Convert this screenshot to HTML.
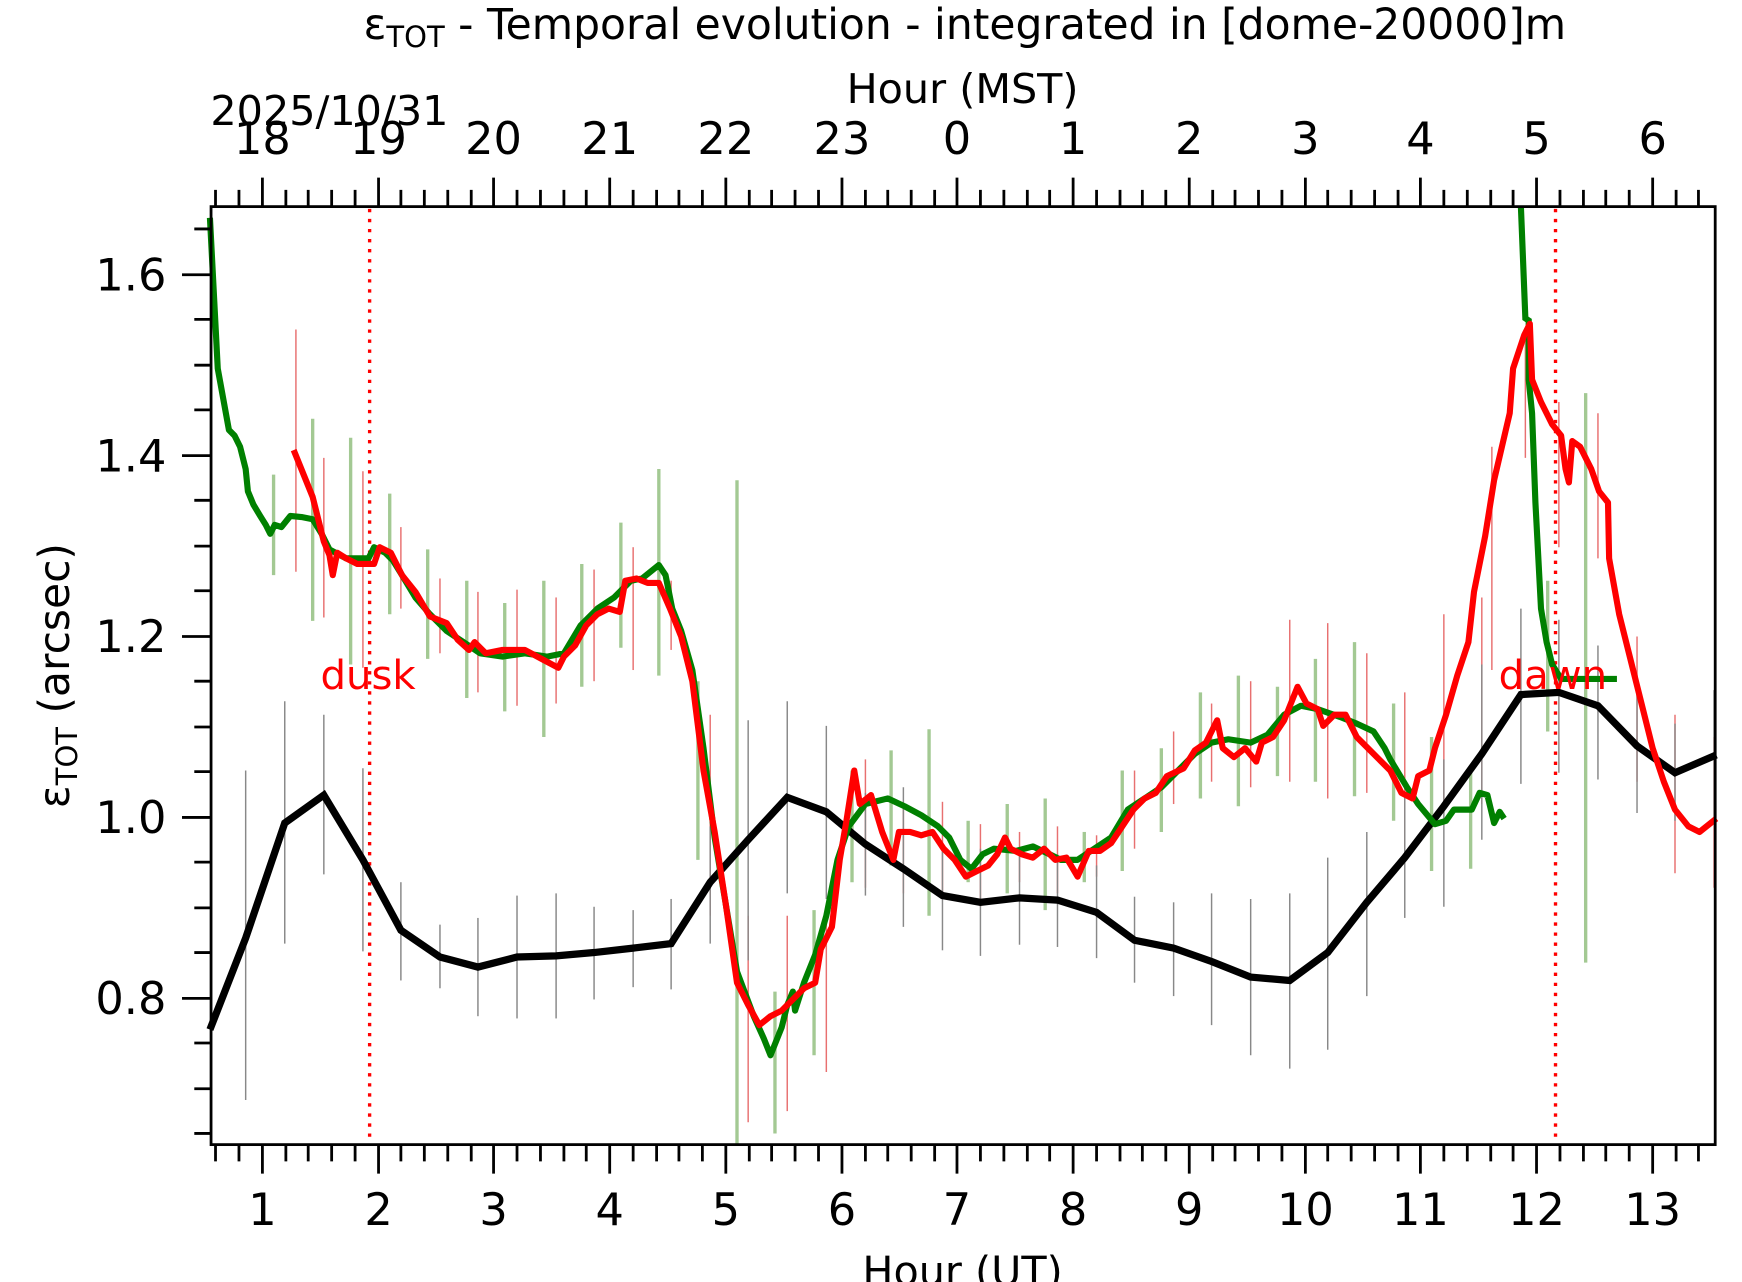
<!DOCTYPE html>
<html><head><meta charset="utf-8"><style>html,body{margin:0;padding:0;background:#fff}svg{display:block}</style></head><body>
<svg width="1742" height="1282" viewBox="0 0 1560 1148" xmlns="http://www.w3.org/2000/svg" font-family="'DejaVu Sans','Liberation Sans',sans-serif">
<rect width="1560" height="1148" fill="#fff"/>
<g stroke-width="1.3">
<g stroke="#e87070">
<line x1="265" y1="295" x2="265" y2="512"/><line x1="290" y1="410" x2="290" y2="553"/><line x1="325" y1="422" x2="325" y2="598"/><line x1="359" y1="472" x2="359" y2="545"/><line x1="394" y1="518" x2="394" y2="585"/><line x1="428" y1="530" x2="428" y2="620"/><line x1="463" y1="528" x2="463" y2="632"/><line x1="498" y1="535" x2="498" y2="630"/><line x1="532" y1="510" x2="532" y2="610"/><line x1="567" y1="490" x2="567" y2="600"/><line x1="601" y1="520" x2="601" y2="582"/><line x1="636" y1="640" x2="636" y2="820"/><line x1="670" y1="820" x2="670" y2="1005"/><line x1="705" y1="820" x2="705" y2="995"/><line x1="740" y1="820" x2="740" y2="960"/><line x1="775" y1="680" x2="775" y2="795"/><line x1="809" y1="720" x2="809" y2="800"/><line x1="844" y1="718" x2="844" y2="805"/><line x1="878" y1="738" x2="878" y2="812"/><line x1="913" y1="745" x2="913" y2="790"/><line x1="947" y1="740" x2="947" y2="800"/><line x1="982" y1="748" x2="982" y2="785"/><line x1="1016" y1="690" x2="1016" y2="760"/><line x1="1051" y1="655" x2="1051" y2="720"/><line x1="1085" y1="630" x2="1085" y2="700"/><line x1="1120" y1="610" x2="1120" y2="705"/><line x1="1155" y1="555" x2="1155" y2="700"/><line x1="1189" y1="558" x2="1189" y2="715"/><line x1="1224" y1="585" x2="1224" y2="710"/><line x1="1258" y1="620" x2="1258" y2="760"/><line x1="1293" y1="550" x2="1293" y2="720"/><line x1="1327" y1="535" x2="1327" y2="720"/><line x1="1336" y1="400" x2="1336" y2="600"/><line x1="1366" y1="300" x2="1366" y2="410"/><line x1="1396" y1="360" x2="1396" y2="490"/><line x1="1431" y1="370" x2="1431" y2="500"/><line x1="1466" y1="570" x2="1466" y2="700"/><line x1="1500" y1="640" x2="1500" y2="782"/><line x1="1535" y1="660" x2="1535" y2="795"/>
</g>
<g stroke="#a3c993" stroke-width="3">
<line x1="245" y1="425" x2="245" y2="515"/><line x1="280" y1="375" x2="280" y2="556"/><line x1="314" y1="392" x2="314" y2="595"/><line x1="349" y1="442" x2="349" y2="550"/><line x1="383" y1="492" x2="383" y2="590"/><line x1="418" y1="520" x2="418" y2="625"/><line x1="452" y1="540" x2="452" y2="637"/><line x1="487" y1="520" x2="487" y2="660"/><line x1="521" y1="505" x2="521" y2="615"/><line x1="556" y1="468" x2="556" y2="580"/><line x1="590" y1="420" x2="590" y2="605"/><line x1="625" y1="610" x2="625" y2="770"/><line x1="660" y1="430" x2="660" y2="1025"/><line x1="694" y1="888" x2="694" y2="1015"/><line x1="729" y1="815" x2="729" y2="945"/><line x1="763" y1="690" x2="763" y2="790"/><line x1="798" y1="672" x2="798" y2="775"/><line x1="832" y1="653" x2="832" y2="820"/><line x1="867" y1="735" x2="867" y2="790"/><line x1="902" y1="720" x2="902" y2="800"/><line x1="936" y1="715" x2="936" y2="815"/><line x1="971" y1="745" x2="971" y2="790"/><line x1="1005" y1="690" x2="1005" y2="780"/><line x1="1040" y1="670" x2="1040" y2="745"/><line x1="1075" y1="620" x2="1075" y2="715"/><line x1="1109" y1="605" x2="1109" y2="722"/><line x1="1144" y1="615" x2="1144" y2="695"/><line x1="1178" y1="590" x2="1178" y2="700"/><line x1="1213" y1="575" x2="1213" y2="713"/><line x1="1248" y1="630" x2="1248" y2="735"/><line x1="1282" y1="660" x2="1282" y2="780"/><line x1="1317" y1="688" x2="1317" y2="778"/><line x1="1386" y1="520" x2="1386" y2="655"/><line x1="1420" y1="352" x2="1420" y2="862"/>
</g>
<g stroke="#888">
<line x1="220" y1="690" x2="220" y2="985"/><line x1="255" y1="628" x2="255" y2="845"/><line x1="290" y1="640" x2="290" y2="783"/><line x1="325" y1="688" x2="325" y2="852"/><line x1="359" y1="790" x2="359" y2="878"/><line x1="394" y1="828" x2="394" y2="885"/><line x1="428" y1="822" x2="428" y2="910"/><line x1="463" y1="802" x2="463" y2="912"/><line x1="498" y1="800" x2="498" y2="912"/><line x1="532" y1="812" x2="532" y2="895"/><line x1="567" y1="815" x2="567" y2="884"/><line x1="601" y1="805" x2="601" y2="886"/><line x1="636" y1="740" x2="636" y2="845"/><line x1="670" y1="645" x2="670" y2="860"/><line x1="705" y1="628" x2="705" y2="800"/><line x1="740" y1="650" x2="740" y2="805"/><line x1="775" y1="710" x2="775" y2="802"/><line x1="809" y1="705" x2="809" y2="830"/><line x1="844" y1="755" x2="844" y2="851"/><line x1="878" y1="760" x2="878" y2="856"/><line x1="913" y1="762" x2="913" y2="846"/><line x1="947" y1="765" x2="947" y2="848"/><line x1="982" y1="775" x2="982" y2="858"/><line x1="1016" y1="803" x2="1016" y2="880"/><line x1="1051" y1="808" x2="1051" y2="892"/><line x1="1085" y1="800" x2="1085" y2="918"/><line x1="1120" y1="805" x2="1120" y2="945"/><line x1="1155" y1="800" x2="1155" y2="957"/><line x1="1189" y1="768" x2="1189" y2="940"/><line x1="1224" y1="745" x2="1224" y2="892"/><line x1="1258" y1="712" x2="1258" y2="822"/><line x1="1293" y1="680" x2="1293" y2="812"/><line x1="1327" y1="595" x2="1327" y2="752"/><line x1="1362" y1="545" x2="1362" y2="702"/><line x1="1396" y1="555" x2="1396" y2="692"/><line x1="1431" y1="578" x2="1431" y2="698"/><line x1="1466" y1="605" x2="1466" y2="728"/><line x1="1500" y1="648" x2="1500" y2="735"/><line x1="1535" y1="618" x2="1535" y2="735"/>
</g>
</g>
<g stroke="#f00" stroke-width="3" stroke-dasharray="3,6">
<line x1="331" y1="187" x2="331" y2="1025"/><line x1="1393" y1="187" x2="1393" y2="1025"/>
</g>
<polyline fill="none" stroke="#000" stroke-width="6.5" stroke-linejoin="miter" points="188,922 220,840 255,737 290,712 325,770 359,833 394,857 428,866 463,857 498,856 532,853 567,849 601,845 636,790 670,752 705,714 740,727 775,756 809,778 844,802 878,808 913,804 947,806 982,817 1016,842 1051,849 1085,861 1120,875 1155,878 1189,853 1224,808 1258,768 1293,722 1327,675 1362,622 1396,620 1431,632 1466,668 1500,692 1537,676"/>
<polyline fill="none" stroke="#008000" stroke-width="5.5" stroke-linejoin="round" points="188,195 195,330 205,385 210,390 215,400 220,420 222,440 227,452 233,462 238,470 242,478 246,470 252,472 260,462 270,463 280,465 288,478 295,492 310,500 330,500 335,490 345,495 352,502 360,515 372,535 385,550 400,565 415,575 430,585 450,588 470,585 490,588 505,585 520,560 535,545 550,535 565,520 575,518 585,510 590,506 596,515 602,545 610,565 620,600 630,670 640,750 650,810 660,870 675,910 684,930 690,945 700,920 705,900 710,888 712,905 720,880 730,855 740,820 750,770 760,740 775,720 795,715 810,722 825,730 840,740 850,750 860,770 870,778 880,765 890,760 910,762 925,758 940,765 950,770 965,770 980,760 995,750 1010,725 1025,715 1040,705 1055,690 1070,675 1085,665 1100,662 1120,665 1135,658 1150,640 1165,632 1180,635 1200,642 1215,648 1230,655 1240,670 1245,680 1260,705 1270,720 1285,738 1295,735 1302,725 1318,725 1325,710 1332,712 1338,737 1343,727 1347,733"/>
<polyline fill="none" stroke="#008000" stroke-width="5.5" points="1362,185 1366,285 1369,287 1369,340 1372,370 1375,450 1380,545 1385,575 1390,595 1398,608 1448,608"/>
<polyline fill="none" stroke="#f00" stroke-width="5.5" stroke-linejoin="round" points="263,403 280,445 290,485 295,497 298,515 302,495 310,500 320,505 335,505 340,490 350,495 360,515 372,530 385,552 400,558 410,573 420,582 425,575 435,585 450,582 470,582 485,590 500,598 505,588 515,578 525,560 535,550 545,545 555,548 560,520 570,518 580,522 590,522 600,545 610,570 620,610 630,690 640,745 650,810 660,880 670,900 680,918 690,910 700,905 710,895 720,885 730,880 735,850 745,830 752,770 758,735 765,690 770,720 780,712 790,745 800,770 805,745 815,745 825,748 835,745 845,760 855,770 865,785 875,780 885,775 893,765 900,750 905,760 915,765 925,768 935,760 945,770 955,768 965,785 975,762 985,762 995,755 1005,740 1015,725 1025,715 1035,710 1045,695 1060,688 1070,672 1080,665 1090,645 1095,670 1105,678 1115,670 1125,682 1130,665 1140,660 1150,645 1162,615 1170,630 1180,635 1185,650 1195,640 1205,640 1215,660 1225,670 1235,680 1245,690 1255,710 1265,715 1270,695 1280,690 1285,670 1295,640 1305,605 1315,575 1320,530 1330,480 1338,430 1345,400 1352,370 1355,330 1365,300 1370,290 1372,340 1380,360 1390,380 1398,390 1402,420 1405,432 1408,395 1415,400 1425,420 1432,440 1440,450 1441,500 1450,550 1460,590 1470,630 1480,670 1490,700 1500,725 1512,740 1522,745 1537,733"/>
<text x="287" y="617" font-size="36" fill="#f00">dusk</text>
<text x="1342" y="617" font-size="36" fill="#f00">dawn</text>
<rect x="189" y="185" width="1347" height="840" fill="none" stroke="#000" stroke-width="2.5"/>
<g stroke="#000" stroke-width="2.5">
<path d="M235,185v-26M339,185v-26M442,185v-26M546,185v-26M650,185v-26M754,185v-26M857,185v-26M961,185v-26M1065,185v-26M1169,185v-26M1272,185v-26M1376,185v-26M1480,185v-26M235,1025v26M339,1025v26M442,1025v26M546,1025v26M650,1025v26M754,1025v26M857,1025v26M961,1025v26M1065,1025v26M1169,1025v26M1272,1025v26M1376,1025v26M1480,1025v26"/>
<path d="M193,185v-15M214,185v-15M256,185v-15M276,185v-15M297,185v-15M318,185v-15M359,185v-15M380,185v-15M401,185v-15M422,185v-15M463,185v-15M484,185v-15M505,185v-15M525,185v-15M567,185v-15M588,185v-15M608,185v-15M629,185v-15M671,185v-15M691,185v-15M712,185v-15M733,185v-15M775,185v-15M795,185v-15M816,185v-15M837,185v-15M878,185v-15M899,185v-15M920,185v-15M940,185v-15M982,185v-15M1003,185v-15M1023,185v-15M1044,185v-15M1086,185v-15M1106,185v-15M1127,185v-15M1148,185v-15M1189,185v-15M1210,185v-15M1231,185v-15M1252,185v-15M1293,185v-15M1314,185v-15M1335,185v-15M1355,185v-15M1397,185v-15M1418,185v-15M1438,185v-15M1459,185v-15M1501,185v-15M1521,185v-15"/>
<path d="M193,1025v15M214,1025v15M256,1025v15M276,1025v15M297,1025v15M318,1025v15M359,1025v15M380,1025v15M401,1025v15M422,1025v15M463,1025v15M484,1025v15M505,1025v15M525,1025v15M567,1025v15M588,1025v15M608,1025v15M629,1025v15M671,1025v15M691,1025v15M712,1025v15M733,1025v15M775,1025v15M795,1025v15M816,1025v15M837,1025v15M878,1025v15M899,1025v15M920,1025v15M940,1025v15M982,1025v15M1003,1025v15M1023,1025v15M1044,1025v15M1086,1025v15M1106,1025v15M1127,1025v15M1148,1025v15M1189,1025v15M1210,1025v15M1231,1025v15M1252,1025v15M1293,1025v15M1314,1025v15M1335,1025v15M1355,1025v15M1397,1025v15M1418,1025v15M1438,1025v15M1459,1025v15M1501,1025v15M1521,1025v15"/>
<path d="M189,246h-26M189,408h-26M189,570h-26M189,732h-26M189,894h-26"/>
<path d="M189,205h-15M189,286h-15M189,327h-15M189,367h-15M189,448h-15M189,489h-15M189,529h-15M189,610h-15M189,651h-15M189,691h-15M189,772h-15M189,813h-15M189,853h-15M189,934h-15M189,975h-15M189,1015h-15"/>
</g>
<g font-size="40" fill="#000" text-anchor="middle">
<text x="235" y="1097">1</text><text x="339" y="1097">2</text><text x="442" y="1097">3</text><text x="546" y="1097">4</text><text x="650" y="1097">5</text><text x="754" y="1097">6</text><text x="857" y="1097">7</text><text x="961" y="1097">8</text><text x="1065" y="1097">9</text><text x="1169" y="1097">10</text><text x="1272" y="1097">11</text><text x="1376" y="1097">12</text><text x="1480" y="1097">13</text>
<text x="235" y="138">18</text><text x="339" y="138">19</text><text x="442" y="138">20</text><text x="546" y="138">21</text><text x="650" y="138">22</text><text x="754" y="138">23</text><text x="857" y="138">0</text><text x="961" y="138">1</text><text x="1065" y="138">2</text><text x="1169" y="138">3</text><text x="1272" y="138">4</text><text x="1376" y="138">5</text><text x="1480" y="138">6</text>
</g>
<g font-size="40" fill="#000" text-anchor="end">
<text x="149" y="260">1.6</text><text x="149" y="422">1.4</text><text x="149" y="584">1.2</text><text x="149" y="746">1.0</text><text x="149" y="908">0.8</text>
</g>
<text x="862" y="1151" font-size="37" text-anchor="middle">Hour (UT)</text>
<text x="862" y="92" font-size="37" text-anchor="middle">Hour (MST)</text>
<text x="295" y="112" font-size="37" text-anchor="middle">2025/10/31</text>
<text x="864" y="35" font-size="38" text-anchor="middle">ε<tspan font-size="26" dy="7">TOT</tspan><tspan dy="-7"> - Temporal evolution - integrated in [dome-20000]m</tspan></text>
<text transform="translate(62,605) rotate(-90)" font-size="38" text-anchor="middle">ε<tspan font-size="26" dy="7">TOT</tspan><tspan dy="-7"> (arcsec)</tspan></text>
</svg>
</body></html>
